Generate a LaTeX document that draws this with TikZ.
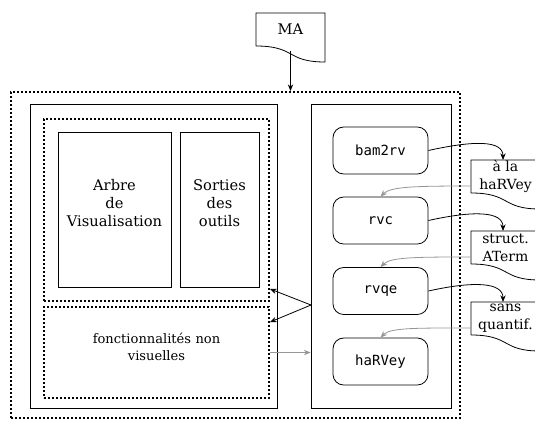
\documentclass[tikz,border=0pt]{standalone}
\usepackage{fontspec}
\setmainfont{DejaVu Serif}
\setmonofont{DejaVu Sans Mono}
\usetikzlibrary{arrows.meta}
\usetikzlibrary{fit}
\definecolor{grisfleche}{RGB}{150,150,150}

\tikzset{
  pointille/.style={draw, line width=1.4pt, dash pattern=on 1.4pt off 1.6pt, inner sep=0pt},
  cadre/.style={draw, line width=0.6pt, inner sep=0pt},
  outil/.style={draw, line width=0.6pt, rounded corners=8pt, minimum width=71.25pt, minimum height=35.25pt, font=\fontsize{10.5}{13.5}\ttfamily},
  texte/.style={align=center, font=\fontsize{10.5}{13.5}\selectfont},
  fleche/.style={-{Stealth[length=5pt,width=4pt]}, line width=0.6pt},
  retour/.style={fleche, grisfleche},
}

% contour d'un document
\newcommand{\feuille}[1]{%
  \draw[line width=0.6pt] ([shift={(-34.5,16.5)}]#1.center) -- ([shift={(-34.5,-16.5)}]#1.center)
    -- ([shift={(34.5,-16.5)}]#1.center) -- ([shift={(34.5,32.5)}]#1.center)
    .. controls ([shift={(-4.5,32.5)}]#1.center) and ([shift={(5.5,16.5)}]#1.center) .. ([shift={(-34.5,16.5)}]#1.center);}

\begin{document}
\begin{tikzpicture}[x=0.75pt, y=-0.75pt, font=\fontsize{11}{13.5}\selectfont]

	\clip (0,0) rectangle (535,422);

	% Document MA
	\node[align=center] (ma) at (290.5,29.5) {MA};
	\feuille{ma}

	% Systeme
	\node[pointille, fit={(11,92) (460,418)}] (sys) {};
	\node[cadre, fit={(30,104) (277,408)}] (ihm) {};
	\node[pointille, fit={(44,119) (269,301)}] (visu) {};
	\node[cadre, fit={(58,132) (171,287)}] (arbre) {};
	\node[align=center] (arbretxt) at (114.5,203) {Arbre\\de\\Visualisation};
	\node[cadre, fit={(180,132) (259,287)}] (sorties) {};
	\node[align=center] (sortiestxt) at (219.5,203) {Sorties\\des\\outils};
	\node[pointille, fit={(44,307) (269,398)}, align=center, font=\fontsize{9.8}{12.8}\selectfont] (nonvisu) {fonctionnalités non\\visuelles};

	% Chaine d'outils
	\node[cadre, fit={(311,104) (451,408)}] (chaine) {};
	\node[outil] (bam2rv) at (380.5,150.5) {bam2rv};
	\node[outil] (rvc) at (380.5,220.5) {rvc};
	\node[outil] (rvqe) at (380.5,291) {rvqe};
	\node[outil] (harvey) at (380.5,361.5) {haRVey};

	% Documents intermediaires
	\node[texte] (ala) at (505.5,176.5) {à la\\haRVey};
	\feuille{ala}
	\node[texte] (aterm) at (505.5,247.5) {struct.\\ATerm};
	\feuille{aterm}
	\node[texte] (sansq) at (505.5,318.5) {sans\\quantif.};
	\feuille{sansq}

	% Fleches
	\draw[fleche] ([yshift=-15.75pt]ma.center) -- (ma.center |- sys.north);

	\draw[fleche] (bam2rv.east) .. controls +(45,-10) and +(0,-20) .. ([shift={(-2.5,-16.5)}]ala.center);
	\draw[retour] ([shift={(-34.5,9.5)}]ala.center) .. controls +(-55,0) and +(10,-10) .. (rvc.north);
	\draw[fleche] (rvc.east) .. controls +(45,-10) and +(0,-20) .. ([shift={(-2.5,-16.5)}]aterm.center);
	\draw[retour] ([shift={(-34.5,9.5)}]aterm.center) .. controls +(-55,0) and +(10,-10) .. (rvqe.north);
	\draw[fleche] (rvqe.east) .. controls +(45,-10) and +(0,-20) .. ([shift={(-2.5,-16.5)}]sansq.center);
	\draw[retour] ([shift={(-34.5,9.5)}]sansq.center) .. controls +(-55,0) and +(10,-10) .. (harvey.north);

	\coordinate (pointe) at (311,305);
	\draw[fleche] (pointe) -- ([yshift=9.75pt]visu.south east);
	\draw[fleche] (pointe) -- ([yshift=-12pt]nonvisu.north east);
	\draw[retour] (nonvisu.east) -- (nonvisu.east -| chaine.west);

\end{tikzpicture}
\end{document}
